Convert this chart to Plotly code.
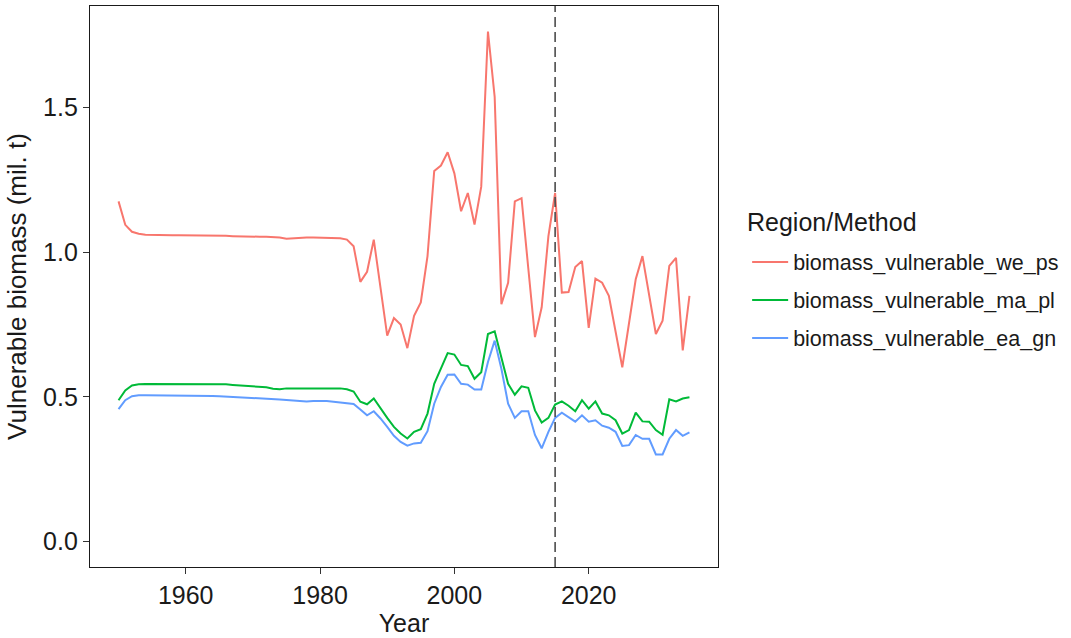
import plotly.graph_objects as go

# Annual series, 1950-2035
years = list(range(1950, 2036))

biomass_vulnerable_we_ps = [
    1.175, 1.094, 1.070, 1.063, 1.060, 1.059, 1.058, 1.058, 1.058, 1.058,
    1.058, 1.058, 1.058, 1.058, 1.057, 1.057, 1.056, 1.055, 1.054, 1.054,
    1.053, 1.053, 1.053, 1.052, 1.050, 1.046, 1.048, 1.049, 1.050, 1.050,
    1.050, 1.050, 1.049, 1.048, 1.043, 1.020, 0.897, 0.932, 1.043, 0.877,
    0.711, 0.772, 0.750, 0.668, 0.780, 0.826, 0.986, 1.280, 1.299, 1.345,
    1.272, 1.141, 1.204, 1.095, 1.226, 1.762, 1.536, 0.820, 0.894, 1.175,
    1.186, 0.945, 0.706, 0.809, 1.055, 1.204, 0.860, 0.862, 0.948, 0.969,
    0.738, 0.908, 0.894, 0.849, 0.726, 0.602, 0.754, 0.906, 0.986, 0.852,
    0.717, 0.763, 0.952, 0.980, 0.660, 0.849,
]

biomass_vulnerable_ma_pl = [
    0.488, 0.522, 0.539, 0.543, 0.544, 0.544, 0.544, 0.543, 0.543, 0.543,
    0.543, 0.543, 0.543, 0.544, 0.544, 0.544, 0.543, 0.541, 0.539, 0.538,
    0.537, 0.535, 0.533, 0.528, 0.526, 0.529, 0.529, 0.530, 0.531, 0.531,
    0.530, 0.529, 0.530, 0.529, 0.526, 0.518, 0.483, 0.474, 0.494, 0.459,
    0.427, 0.396, 0.373, 0.356, 0.379, 0.388, 0.442, 0.545, 0.599, 0.651,
    0.646, 0.610, 0.606, 0.562, 0.585, 0.717, 0.726, 0.631, 0.545, 0.507,
    0.536, 0.531, 0.453, 0.411, 0.427, 0.473, 0.484, 0.469, 0.450, 0.488,
    0.459, 0.484, 0.442, 0.436, 0.419, 0.373, 0.385, 0.445, 0.415, 0.414,
    0.385, 0.369, 0.491, 0.484, 0.494, 0.498,
]

biomass_vulnerable_ea_gn = [
    0.457, 0.488, 0.502, 0.505, 0.505, 0.505, 0.505, 0.505, 0.505, 0.504,
    0.504, 0.504, 0.504, 0.503, 0.503, 0.502, 0.501, 0.500, 0.499, 0.498,
    0.497, 0.496, 0.495, 0.493, 0.491, 0.489, 0.487, 0.485, 0.484, 0.485,
    0.486, 0.485, 0.483, 0.481, 0.479, 0.475, 0.456, 0.436, 0.450, 0.425,
    0.396, 0.365, 0.344, 0.331, 0.339, 0.341, 0.381, 0.476, 0.534, 0.576,
    0.577, 0.545, 0.542, 0.525, 0.525, 0.620, 0.694, 0.597, 0.476, 0.427,
    0.450, 0.450, 0.368, 0.322, 0.379, 0.427, 0.445, 0.430, 0.414, 0.436,
    0.414, 0.419, 0.400, 0.393, 0.379, 0.330, 0.333, 0.368, 0.355, 0.355,
    0.301, 0.301, 0.355, 0.385, 0.365, 0.377,
]

series_names = [
    "biomass_vulnerable_we_ps",
    "biomass_vulnerable_ma_pl",
    "biomass_vulnerable_ea_gn",
]
series_values = [
    biomass_vulnerable_we_ps,
    biomass_vulnerable_ma_pl,
    biomass_vulnerable_ea_gn,
]
series_colors = ["#F8766D", "#00BA38", "#619CFF"]

projection_start = 2015
x_ticks = [1960, 1980, 2000, 2020]
y_ticks = [0.0, 0.5, 1.0, 1.5]
y_tick_text = ["0.0", "0.5", "1.0", "1.5"]
legend_title = "Region/Method"

FONT = "Liberation Sans, Arial, Helvetica, sans-serif"
TEXT = "#1a1a1a"

fig = go.Figure()
for name, vals, col in zip(series_names, series_values, series_colors):
    fig.add_trace(go.Scatter(
        x=years, y=vals, mode="lines", name=name, legendgroup=name,
        line=dict(color=col, width=2),
    ))

# 5% padding around the data span, as in the usual ggplot expansion
x_span = years[-1] - years[0]
x_range = [years[0] - 0.05 * x_span, years[-1] + 0.05 * x_span]
y_max = max(max(v) for v in series_values)
y_range = [-0.05 * y_max, y_max * 1.05]

fig.add_shape(
    type="line", xref="x", yref="paper",
    x0=projection_start, x1=projection_start, y0=0, y1=1,
    line=dict(color="#4d4d4d", width=1.6, dash="10px,5px"),
)

axis_common = dict(
    showgrid=False, zeroline=False,
    showline=True, mirror=True, linecolor=TEXT, linewidth=1.3,
    ticks="outside", ticklen=6, tickwidth=1.1, tickcolor="#333333",
    tickfont=dict(family=FONT, size=25, color=TEXT),
)

# legend heading sits above the key entries
fig.add_annotation(
    text=legend_title, xref="paper", yref="paper",
    x=1.0435, y=0.615, xanchor="left", yanchor="middle",
    showarrow=False, font=dict(family=FONT, size=25, color=TEXT),
)

fig.update_layout(
    width=1071, height=638,
    margin=dict(l=90, r=353, t=5, b=69),
    paper_bgcolor="white", plot_bgcolor="white",
    font=dict(family=FONT, color=TEXT),
    xaxis=dict(
        range=x_range, tickvals=x_ticks,
        title=dict(text="Year", font=dict(family=FONT, size=25, color=TEXT), standoff=6),
        **axis_common,
    ),
    yaxis=dict(
        range=y_range, tickvals=y_ticks, ticktext=y_tick_text,
        title=dict(text="Vulnerable biomass (mil. t)", font=dict(family=FONT, size=26, color=TEXT), standoff=8),
        **axis_common,
    ),
    legend=dict(
        font=dict(family=FONT, size=21.5, color=TEXT),
        x=1.0464, xanchor="left", y=0.580, yanchor="top",
        tracegroupgap=7, itemwidth=36,
        bgcolor="rgba(0,0,0,0)",
    ),
    showlegend=True,
)

fig.write_html("out.html")
